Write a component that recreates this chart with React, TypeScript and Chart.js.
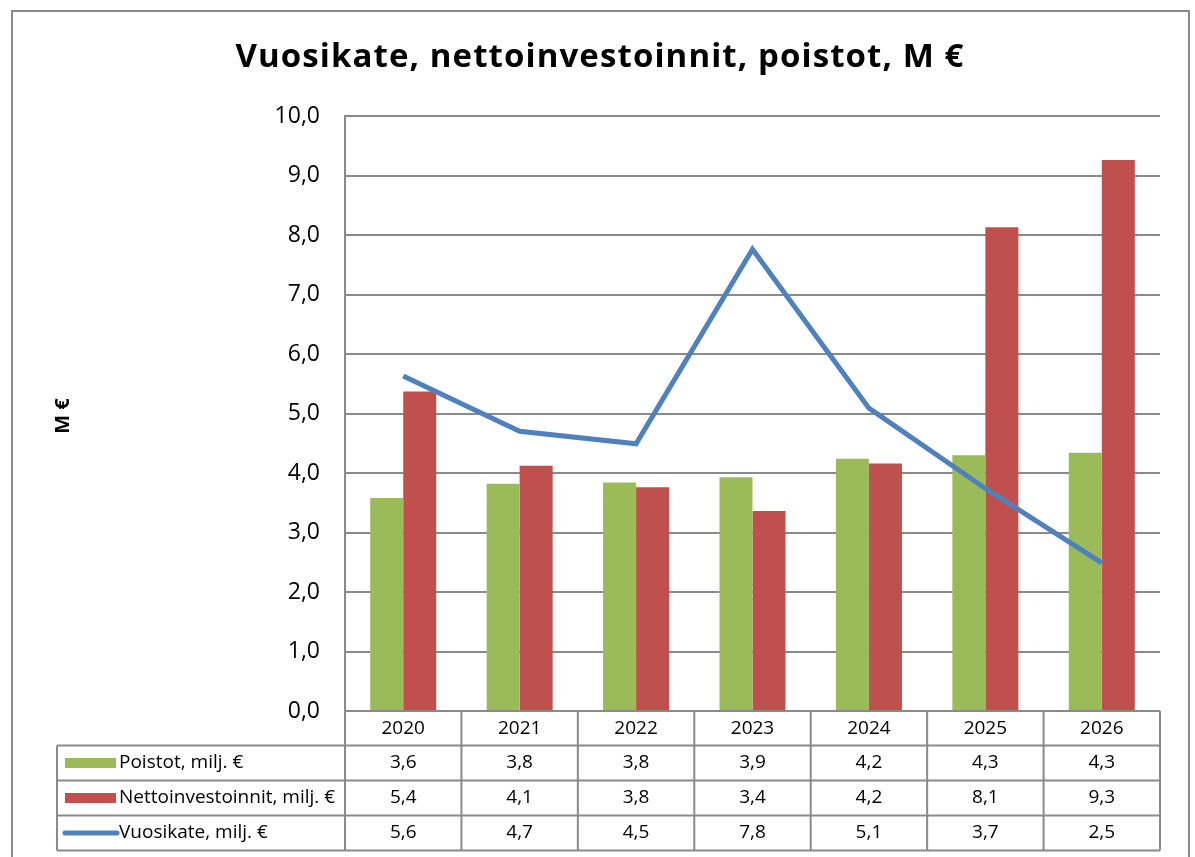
import { useEffect, useRef } from 'react';
import { Chart, registerables } from 'chart.js';

Chart.register(...registerables);

const categories = ['2020', '2021', '2022', '2023', '2024', '2025', '2026'];
const poistot = [3.58, 3.82, 3.84, 3.93, 4.24, 4.3, 4.34];
const nettoinvestoinnit = [5.37, 4.12, 3.76, 3.36, 4.16, 8.13, 9.26];
const vuosikate = [5.63, 4.7, 4.49, 7.76, 5.09, 3.74, 2.49];

const seriesLabels = ['Poistot, milj. €', 'Nettoinvestoinnit, milj. €', 'Vuosikate, milj. €'];
const titleText = 'Vuosikate, nettoinvestoinnit, poistot, M €';
const yTitle = 'M €';

const GREEN = '#9BBB59';
const RED = '#C0504D';
const BLUE = '#4F81BD';
const GRID = '#8a8a8a';
const FONT = '"Open Sans", Lato, sans-serif';

const fmt = (v: number) => (Math.round(v * 10) / 10).toFixed(1).replace('.', ',');

export default function App() {
  const ref = useRef<HTMLCanvasElement>(null);

  useEffect(() => {
    if (!ref.current) return;
    const extras = {
      id: 'extras',
      afterDraw(chart: any) {
        const ctx = chart.ctx as CanvasRenderingContext2D;
        const xs = chart.scales.x;
        const area = chart.chartArea;
        ctx.save();
        // outer frame
        ctx.strokeStyle = GRID;
        ctx.lineWidth = 2;
        ctx.strokeRect(12, 11, 1177, 880);

        // title
        ctx.fillStyle = '#000';
        ctx.textAlign = 'center';
        ctx.textBaseline = 'middle';
        ctx.font = `bold 33px ${FONT}`;
        (ctx as any).letterSpacing = '1.1px';
        ctx.fillText(titleText, 600, 58);
        (ctx as any).letterSpacing = '0px';

        // y axis title
        ctx.save();
        ctx.translate(63, 416);
        ctx.rotate(-Math.PI / 2);
        ctx.font = `bold 20px ${FONT}`;
        ctx.fillText(yTitle, 0, 0);
        ctx.restore();

        // data table
        const n = categories.length;
        const left = xs.left;
        const right = xs.right;
        const cw = (right - left) / n;
        const top = area.bottom;
        const legendLeft = 57;
        const rowYs = [top, top + 34.5, top + 69.5, top + 104.5, top + 139.5];

        ctx.strokeStyle = GRID;
        ctx.lineWidth = 2;
        ctx.beginPath();
        ctx.moveTo(left, rowYs[0]);
        ctx.lineTo(right, rowYs[0]);
        for (let r = 1; r < rowYs.length; r++) {
          ctx.moveTo(legendLeft, rowYs[r]);
          ctx.lineTo(right, rowYs[r]);
        }
        ctx.moveTo(legendLeft, rowYs[1]);
        ctx.lineTo(legendLeft, rowYs[4]);
        for (let i = 0; i <= n; i++) {
          const x = left + i * cw;
          ctx.moveTo(x, rowYs[0]);
          ctx.lineTo(x, rowYs[4]);
        }
        ctx.stroke();

        ctx.fillStyle = '#000';
        ctx.font = `19px ${FONT}`;
        ctx.textAlign = 'center';
        ctx.textBaseline = 'middle';
        const dataRows = [poistot, nettoinvestoinnit, vuosikate];
        for (let i = 0; i < n; i++) {
          const cx = left + (i + 0.5) * cw;
          ctx.fillText(categories[i], cx, (rowYs[0] + rowYs[1]) / 2);
          for (let r = 0; r < 3; r++) {
            ctx.fillText(fmt(dataRows[r][i]), cx, (rowYs[r + 1] + rowYs[r + 2]) / 2);
          }
        }

        // legend keys
        ctx.textAlign = 'left';
        for (let r = 0; r < 3; r++) {
          const cy = (rowYs[r + 1] + rowYs[r + 2]) / 2;
          if (r < 2) {
            ctx.fillStyle = r === 0 ? GREEN : RED;
            ctx.fillRect(65, cy - 5, 51, 10);
          } else {
            ctx.strokeStyle = BLUE;
            ctx.lineWidth = 5;
            ctx.lineCap = 'round';
            ctx.beginPath();
            ctx.moveTo(65, cy);
            ctx.lineTo(117, cy);
            ctx.stroke();
          }
          ctx.fillStyle = '#000';
          ctx.fillText(seriesLabels[r], 119, cy);
        }
        ctx.restore();
      },
    };

    const chart = new Chart(ref.current, {
      type: 'bar',
      data: {
        labels: categories,
        datasets: [
          {
            type: 'line',
            label: seriesLabels[2],
            data: vuosikate,
            borderColor: BLUE,
            backgroundColor: BLUE,
            borderWidth: 5,
            pointRadius: 0,
            tension: 0,
            order: 0,
          } as any,
          {
            label: seriesLabels[0],
            data: poistot,
            backgroundColor: GREEN,
            borderWidth: 0,
            order: 1,
            categoryPercentage: 0.567,
            barPercentage: 1,
          },
          {
            label: seriesLabels[1],
            data: nettoinvestoinnit,
            backgroundColor: RED,
            borderWidth: 0,
            order: 1,
            categoryPercentage: 0.567,
            barPercentage: 1,
          },
        ],
      },
      options: {
        responsive: false,
        animation: false,
        devicePixelRatio: 1,
        layout: { padding: { left: 0, top: 116, right: 35, bottom: 146 } },
        plugins: {
          legend: { display: false },
          title: { display: false },
          tooltip: { enabled: false },
        },
        scales: {
          x: { display: false, offset: true },
          y: {
            min: 0,
            max: 10,
            afterFit: (scale: any) => {
              scale.width = 345;
            },
            ticks: {
              stepSize: 1,
              padding: 25,
              color: '#000',
              font: { family: FONT, size: 23 },
              callback: (v: any) => Number(v).toFixed(1).replace('.', ','),
            },
            grid: { color: GRID, lineWidth: 2, drawTicks: false },
            border: { display: true, color: GRID, width: 2 },
          },
        },
      },
      plugins: [extras],
    });
    return () => chart.destroy();
  }, []);

  return (
    <div style={{ position: 'absolute', left: 0, top: 0, width: 1195, height: 857, background: '#fff' }}>
      <canvas ref={ref} width={1195} height={857} />
    </div>
  );
}
